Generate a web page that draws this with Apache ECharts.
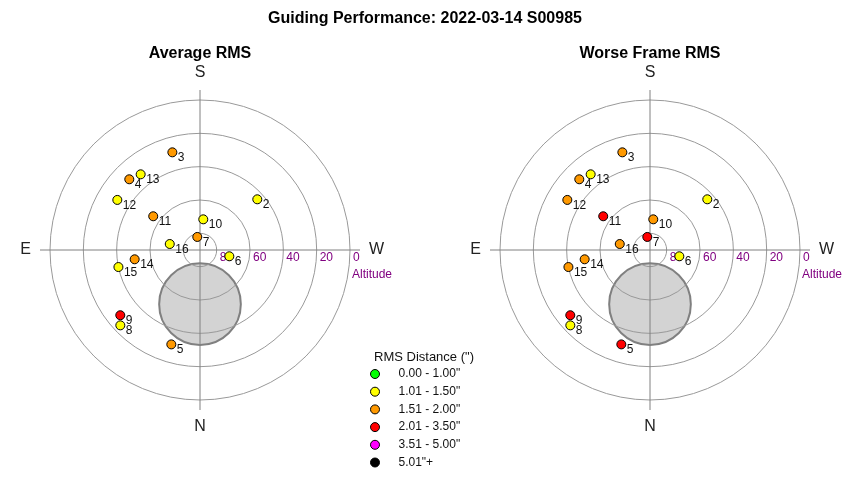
<!DOCTYPE html>
<html><head><meta charset="utf-8">
<script src="https://cdn.jsdelivr.net/npm/echarts@6/dist/echarts.min.js"></script>
<style>html,body{margin:0;padding:0;background:#fff}#c{width:850px;height:480px}</style>
</head><body><div id="c"></div>
<script>
// ---- data ----
const pointIds   = ['2','3','4','5','6','7','8','9','10','11','12','13','14','15','16'];
const azimuth    = [228.5, 164.2, 135.0, 16.9, 282.1, 168.3, 46.6, 50.7, 186.1, 125.8, 121.2, 141.9, 81.9, 78.2, 101.2];
const altitude   = [44.1, 29.1, 30.0, 30.8, 72.0, 82.0, 24.2, 28.2, 71.5, 55.4, 32.0, 32.3, 50.4, 40.0, 71.5];
// RMS class index per point (0..5, see rmsClasses)
const avgClass   = [1, 2, 2, 2, 1, 2, 1, 3, 1, 2, 1, 1, 2, 1, 1];
const worstClass = [1, 2, 2, 3, 1, 3, 1, 3, 2, 3, 2, 1, 2, 2, 2];
const rmsClasses = ['0.00 - 1.00"', '1.01 - 1.50"', '1.51 - 2.00"', '2.01 - 3.50"', '3.51 - 5.00"', '5.01"+'];
const altitudeTicks = [0, 20, 40, 60, 80];
const compassLabels = {'-90': 'W', '0': 'N', '90': 'E', '180': 'S'};
const zoneAzimuth  = [0];
const zoneAltitude = [57.5];
const zoneRadius   = [24.5];

// ---- styles / layout ----
const classColors = ['#00ff00', '#ffff00', '#ff9900', '#ff0000', '#ff00ff', '#000000'];
const FONT = 'Liberation Sans, Arial, sans-serif';
const panels = [
  {title: 'Average RMS', cls: avgClass, cx: 200},
  {title: 'Worse Frame RMS', cls: worstClass, cx: 650}
];

const series = [];
panels.forEach((p, pi) => {
  series.push({
    type: 'custom', coordinateSystem: 'polar', polarIndex: pi, silent: true, z: -1,
    data: zoneAzimuth.map((az, i) => [zoneAltitude[i], az, zoneRadius[i]]),
    renderItem: (params, api) => {
      const alt = api.value(0), az = api.value(1), rad = api.value(2);
      const c = api.coord([alt, az]);
      const e = api.coord([alt + rad, az]);
      const r = Math.hypot(e[0] - c[0], e[1] - c[1]);
      return {type: 'circle', shape: {cx: c[0], cy: c[1], r: r},
              style: {fill: '#d3d3d3', stroke: '#808080', lineWidth: 2}};
    }
  });
  rmsClasses.forEach((name, k) => {
    const data = [];
    pointIds.forEach((id, j) => {
      if (p.cls[j] === k) data.push({name: id, value: [altitude[j], azimuth[j]]});
    });
    series.push({
      type: 'scatter', coordinateSystem: 'polar', polarIndex: pi, name: name,
      symbol: 'circle', symbolSize: 9, z: 3,
      itemStyle: {color: classColors[k], borderColor: '#000', borderWidth: 1, opacity: 1},
      label: {show: true, formatter: '{b}', position: [10.5, 4.5], fontSize: 12, color: '#111', fontFamily: FONT},
      emphasis: {disabled: true},
      data: data
    });
  });
});

const option = {
  animation: false,
  textStyle: {fontFamily: FONT},
  title: [
    {text: 'Guiding Performance: 2022-03-14 S00985', left: 'center', top: 11, padding: 0,
     textStyle: {fontSize: 16, fontWeight: 'bold', color: '#000', fontFamily: FONT}},
    ...panels.map(p => ({text: p.title, left: p.cx, textAlign: 'center', top: 46, padding: 0,
     textStyle: {fontSize: 16, fontWeight: 'bold', color: '#000', fontFamily: FONT}})),
    {text: 'RMS Distance (")', left: 374, top: 351, padding: 0,
     textStyle: {fontSize: 13, fontWeight: 'normal', color: '#111', fontFamily: FONT}}
  ],
  legend: {
    data: rmsClasses, orient: 'vertical', left: 370, top: 368, padding: 0,
    itemWidth: 9, itemHeight: 9, itemGap: 5.7, icon: 'circle', selectedMode: false,
    itemStyle: {borderColor: '#000', borderWidth: 1},
    textStyle: {fontSize: 12, color: '#111', padding: [0, 0, 0, 14], fontFamily: FONT}
  },
  polar: panels.map(p => ({center: [p.cx, 250], radius: 160})),
  angleAxis: panels.map((p, i) => ({
    polarIndex: i, type: 'value', min: -90, max: 270, interval: 90,
    startAngle: 0, clockwise: true,
    axisLine: {show: false}, axisTick: {show: false},
    splitLine: {show: true, lineStyle: {color: '#808080', width: 1}},
    axisLabel: {margin: 9, fontSize: 16, color: '#222', fontFamily: FONT,
                formatter: v => compassLabels[String(v)] || ''}
  })),
  radiusAxis: panels.map((p, i) => ({
    polarIndex: i, type: 'value', min: -6, max: 90, inverse: true,
    axisLine: {show: false},
    axisTick: {show: false, customValues: altitudeTicks},
    splitLine: {show: true, lineStyle: {color: '#999', width: 1}},
    axisLabel: {customValues: altitudeTicks, color: '#800080', fontSize: 12, fontFamily: FONT,
                align: 'left', verticalAlign: 'top', margin: -2, padding: [0, 0, 0, 3]},
    name: 'Altitude', nameLocation: 'start', nameGap: -8,
    nameTextStyle: {color: '#800080', fontSize: 12, fontFamily: FONT, align: 'left',
                    verticalAlign: 'top', padding: [19, 0, 0, 0]}
  })),
  series: series
};
const chart = echarts.init(document.getElementById('c'));
chart.setOption(option);
</script></body></html>
